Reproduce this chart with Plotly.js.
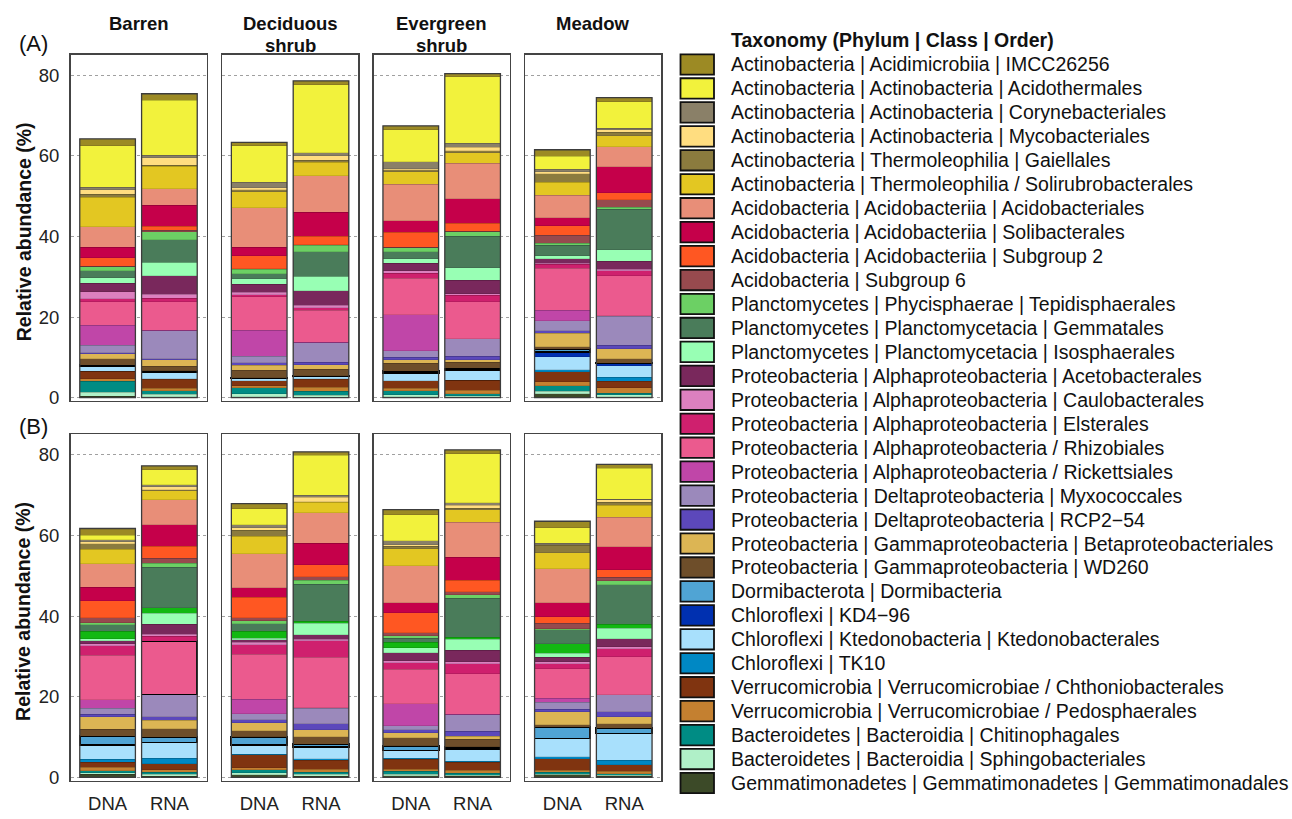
<!DOCTYPE html>
<html><head><meta charset="utf-8">
<script src="https://cdn.plot.ly/plotly-3.0.1.min.js"></script>
<style>html,body{margin:0;padding:0;background:#fff;}#chart{width:1292px;height:819px;}</style>
</head><body><div id="chart"></div>
<script>
// ---------------- DATA ----------------
const habitats = ["Barren", "Deciduous<br>shrub", "Evergreen<br>shrub", "Meadow"];
const nucleic = ["DNA", "RNA"];
const rowLabels = ["(A)", "(B)"];
const yTicks = [0, 20, 40, 60, 80];
const yTitle = "Relative abundance (%)";
const legendTitle = "Taxonomy (Phylum | Class | Order)";

// 16 values per taxon: row A [Barren DNA, Barren RNA, Deciduous DNA, Deciduous RNA, Evergreen DNA, Evergreen RNA, Meadow DNA, Meadow RNA], then row B in the same order
const IMCC26256 = [1.65,1.65,0.8,1.0,0.9,0.75,1.65,1.0, 1.65,0.9,1.25,0.8,1.3,1.0,1.65,1.0];
const Acidothermales = [10.3,13.6,9.1,16.8,7.95,16.5,3.2,6.6, 1.15,3.8,4.0,10.0,6.45,12.15,3.8,7.6];
const Corynebacteriales = [0.66,0.66,1.4,0.8,1.75,1.0,0.6,0.33, 0.5,0.5,0.75,0.5,1.0,0.66,0.33,0.2];
const Mycobacteriales = [1.1,1.8,0.5,1.15,0.33,0.9,0.5,0.66, 0.5,0.66,0.66,1.05,0.3,0.66,0.2,0.66];
const Gaiellales = [0.75,0.3,0.4,0.4,0.4,0.5,2.05,0.9, 1.3,0.33,1.4,0.2,0.7,0.4,1.8,0.66];
const Solirubrobacterales = [7.4,5.6,4.05,3.4,3.2,2.65,3.3,2.65, 3.7,2.15,4.4,2.55,4.15,3.15,4.0,3.0];
const Acidobacteriales = [5.0,4.0,9.75,9.1,8.95,8.7,5.55,5.0, 5.8,6.3,8.45,7.6,9.25,8.6,8.5,7.3];
const Solibacterales = [2.6,5.3,2.15,5.95,2.9,6.1,2.0,6.45, 3.3,5.3,2.3,5.3,2.5,5.8,3.4,5.7];
const Subgroup2 = [2.15,1.0,3.15,2.05,3.7,2.05,2.4,1.75, 4.2,3.0,5.1,3.0,4.95,2.8,1.65,1.9];
const Subgroup6 = [0.1,0.3,0.15,0.1,0.1,0.1,1.9,1.8, 1.3,1.25,0.8,0.9,0.66,0.75,1.3,0.8];
const Tepidisphaerales = [1.0,2.0,1.15,1.6,1.0,1.05,0.6,0.5, 0.5,0.9,0.66,0.9,0.66,0.9,0.33,1.0];
const Gemmatales = [1.8,5.6,1.3,6.1,1.8,7.85,2.5,10.1, 1.65,10.1,1.9,9.25,1.0,9.6,3.5,9.9];
const Isosphaerales = [1.3,3.4,1.25,3.65,1.15,3.15,0.8,2.8, 0.5,2.65,0.33,2.8,1.25,2.8,1.0,2.5];
const Acetobacterales = [2.1,4.55,2.0,3.55,1.8,3.3,1.1,2.05, 0.8,2.5,0.66,1.15,2.0,2.8,1.15,2.0];
const Caulobacterales = [1.8,1.0,0.6,0.6,0.6,0.4,0.2,0.4, 0.4,0.5,0.66,0.33,0.5,0.5,0.5,0.5];
const Elsterales = [0.75,0.8,0.5,0.65,1.25,1.55,1.0,1.15, 2.4,1.25,2.3,4.1,1.65,2.5,1.15,2.0];
const Rhizobiales = [5.8,7.1,8.35,7.95,9.1,9.2,10.5,10.0, 11.0,13.2,11.25,12.55,8.6,10.1,7.3,9.4];
const Rickettsiales = [5.0,0.1,6.5,0.1,8.9,0.1,2.55,0.1, 2.2,0.1,3.5,0.1,5.45,0.1,1.0,0.1];
const Myxococcales = [1.8,6.95,1.6,4.9,1.65,4.3,2.5,7.2, 1.5,5.45,1.5,3.9,1.0,4.0,1.8,4.15];
const RCP2_54 = [0.25,0.33,0.6,0.6,0.65,0.8,0.65,0.8, 0.6,0.8,0.8,1.5,0.66,1.3,0.66,1.3];
const Betaproteobacteriales = [1.3,1.6,1.25,1.1,0.8,0.65,3.3,2.5, 3.05,2.15,2.0,1.75,1.3,0.8,3.15,1.65];
const WD260 = [1.6,1.1,1.9,1.55,2.0,1.55,0.65,1.1, 1.75,2.15,1.5,1.8,2.0,1.8,0.66,1.15];
const Dormibacteria = [0.25,0.3,0.15,0.15,0.4,0.33,0.66,0.1, 2.25,1.3,1.9,0.66,1.15,0.66,2.8,1.3];
const KD4_96 = [0.05,0.05,0.05,0.05,0.05,0.05,1.15,0.6, 0.1,0.1,0.1,0.1,0.1,0.1,0.1,0.1];
const Ktedonobacterales = [1.15,1.65,0.5,0.65,1.9,2.5,3.3,2.8, 3.3,3.8,2.25,2.8,1.8,2.8,4.45,6.5];
const TK10 = [0.05,0.05,0.05,0.05,0.05,0.05,0.5,1.0, 0.8,1.3,0.2,0.4,0.2,0.33,0.5,1.1];
const Chthoniobacterales = [1.8,2.3,1.25,2.0,1.8,2.5,2.5,1.65, 1.3,1.5,3.15,2.25,2.5,2.0,2.8,1.65];
const Pedosphaerales = [0.66,0.66,0.5,1.0,0.66,0.8,1.0,1.3, 0.8,0.66,0.5,0.8,0.5,0.66,0.5,0.66];
const Chitinophagales = [2.65,0.8,1.4,1.0,1.0,0.5,1.3,0.4, 0.5,0.5,0.8,0.5,0.8,0.5,0.5,0.33];
const Sphingobacteriales = [1.0,0.66,0.8,0.5,0.5,0.33,0.6,0.5, 0.33,0.5,0.5,0.5,0.33,0.33,0.15,0.33];
const Gemmatimonadales = [0.4,0.2,0.2,0.1,0.2,0.2,1.0,0.25, 0.8,0.25,0.6,0.2,0.4,0.2,0.6,0.2];
const unlabelledGreen = [0,0,0,0,0,0,0,0, 1.8,1.4,1.75,0.5,1.3,0.5,2.3,1.0];

const taxaNames = [
  "Actinobacteria | Acidimicrobiia | IMCC26256",
  "Actinobacteria | Actinobacteria | Acidothermales",
  "Actinobacteria | Actinobacteria | Corynebacteriales",
  "Actinobacteria | Actinobacteria | Mycobacteriales",
  "Actinobacteria | Thermoleophilia | Gaiellales",
  "Actinobacteria | Thermoleophilia / Solirubrobacterales",
  "Acidobacteria | Acidobacteriia | Acidobacteriales",
  "Acidobacteria | Acidobacteriia | Solibacterales",
  "Acidobacteria | Acidobacteriia | Subgroup 2",
  "Acidobacteria | Subgroup 6",
  "Planctomycetes | Phycisphaerae | Tepidisphaerales",
  "Planctomycetes | Planctomycetacia | Gemmatales",
  "Planctomycetes | Planctomycetacia | Isosphaerales",
  "Proteobacteria | Alphaproteobacteria | Acetobacterales",
  "Proteobacteria | Alphaproteobacteria | Caulobacterales",
  "Proteobacteria | Alphaproteobacteria | Elsterales",
  "Proteobacteria | Alphaproteobacteria / Rhizobiales",
  "Proteobacteria | Alphaproteobacteria / Rickettsiales",
  "Proteobacteria | Deltaproteobacteria | Myxococcales",
  "Proteobacteria | Deltaproteobacteria | RCP2\u221254",
  "Proteobacteria | Gammaproteobacteria | Betaproteobacteriales",
  "Proteobacteria | Gammaproteobacteria | WD260",
  "Dormibacterota | Dormibacteria",
  "Chloroflexi | KD4\u221296",
  "Chloroflexi | Ktedonobacteria | Ktedonobacterales",
  "Chloroflexi | TK10",
  "Verrucomicrobia | Verrucomicrobiae / Chthoniobacterales",
  "Verrucomicrobia | Verrucomicrobiae / Pedosphaerales",
  "Bacteroidetes | Bacteroidia | Chitinophagales",
  "Bacteroidetes | Bacteroidia | Sphingobacteriales",
  "Gemmatimonadetes | Gemmatimonadetes | Gemmatimonadales"
];
const taxaValues = [IMCC26256, Acidothermales, Corynebacteriales, Mycobacteriales, Gaiellales,
  Solirubrobacterales, Acidobacteriales, Solibacterales, Subgroup2, Subgroup6, Tepidisphaerales,
  Gemmatales, Isosphaerales, Acetobacterales, Caulobacterales, Elsterales, Rhizobiales, Rickettsiales,
  Myxococcales, RCP2_54, Betaproteobacteriales, WD260, Dormibacteria, KD4_96, Ktedonobacterales, TK10,
  Chthoniobacterales, Pedosphaerales, Chitinophagales, Sphingobacteriales, Gemmatimonadales];
const taxaColors = ["#9c8a24","#f2f23c","#8a8068","#ffdd80","#8b7b3e","#e3c722","#e88e78","#c5004a",
  "#ff5722","#974a4e","#6cd064","#4a7c5a","#98ffb4","#79285c","#dc80bf","#cf206e","#eb5a8e","#c046a8",
  "#9b89bb","#5c48bb","#dcb554","#6e4e2a","#50a4d4","#0030b0","#a8e0fc","#0088c4","#803410","#c48030",
  "#008c84","#b0f0c8","#3c4a28"];
const unlabelledColor = "#12b812";

// ---------------- LAYOUT GEOMETRY (pixels) ----------------
const W = 1292, H = 819;
const PX = v => v / W, PY = v => 1 - v / H;
const colLeft = [70.5, 222.1, 373.7, 525.3], colW = 136;
const rowTop = [54.7, 434.3], rowH = 346.2;
const yRange = [-0.8, 85.1];
const FONT = "Liberation Sans, Arial, Helvetica, sans-serif";

// stacking order bottom -> top (reverse of legend), unlabelled green sits between Isosphaerales and Gemmatales
const stack = [];
for (let i = taxaNames.length - 1; i >= 0; i--) {
  stack.push({name: taxaNames[i], color: taxaColors[i], vals: taxaValues[i]});
  if (taxaNames[i].endsWith("Isosphaerales")) stack.push({name: "Planctomycetes (unlabelled)", color: unlabelledColor, vals: unlabelledGreen});
}

const traces = [];
const layout = {
  width: W, height: H, margin: {l: 0, r: 0, t: 0, b: 0},
  paper_bgcolor: "#fff", plot_bgcolor: "#fff",
  barmode: "stack", bargap: 0.1, showlegend: false,
  font: {family: FONT, color: "#1a1a1a"},
  annotations: [], shapes: []
};

for (let r = 0; r < 2; r++) {
  for (let c = 0; c < 4; c++) {
    const p = r * 4 + c;
    const ax = p === 0 ? "" : String(p + 1);
    const idx = k => r * 8 + c * 2 + k;
    stack.forEach(s => {
      const isDor = s.name.startsWith("Dormibacterota");
      const isRhiHi = s.name.endsWith("Rhizobiales") && r === 1 && c === 0;
      traces.push({
        type: "bar", name: s.name, x: nucleic, y: [s.vals[idx(0)], s.vals[idx(1)]],
        xaxis: "x" + ax, yaxis: "y" + ax, width: 0.9,
        marker: {color: s.color, line: {
          color: nucleic.map((_, k) => (isDor || (isRhiHi && k === 1)) ? "#000" : "rgba(0,0,0,0.18)"),
          width: nucleic.map((_, k) => (isDor || (isRhiHi && k === 1)) ? 1.8 : 0.6)}},
        hovertemplate: s.name + "<br>%{x}: %{y:.2f}%<extra></extra>"
      });
    });
    // outline of each whole bar, computed from the stacked totals
    nucleic.forEach((n, k) => {
      const total = stack.reduce((a, s) => a + s.vals[idx(k)], 0);
      layout.shapes.push({type: "rect", xref: "x" + ax, yref: "y" + ax, x0: k - 0.45, x1: k + 0.45, y0: 0, y1: total,
        line: {color: "#3c3c3c", width: 1.3}, fillcolor: "rgba(0,0,0,0)", layer: "above"});
    });
    layout["xaxis" + ax] = {
      domain: [PX(colLeft[c]), PX(colLeft[c] + colW)], anchor: "y" + ax,
      type: "category", range: [-0.6, 1.6], showgrid: false, zeroline: false,
      showline: true, mirror: true, linecolor: "#444", linewidth: 1.5,
      ticks: "outside", ticklen: 6, tickcolor: "rgba(0,0,0,0)",
      showticklabels: r === 1, tickfont: {family: FONT, size: 18.5, color: "#222"}, fixedrange: true
    };
    layout["yaxis" + ax] = {
      domain: [PY(rowTop[r] + rowH), PY(rowTop[r])], anchor: "x" + ax,
      range: yRange, tickvals: yTicks, showgrid: true, gridcolor: "#a0a0a0", griddash: "dot", gridwidth: 1,
      zeroline: false, showline: true, mirror: true, linecolor: "#444", linewidth: 1.5,
      ticks: "outside", ticklen: 6, tickcolor: "rgba(0,0,0,0)",
      showticklabels: c === 0, tickfont: {family: FONT, size: 18.5, color: "#222"}, fixedrange: true
    };
  }
  // row label and y title
  layout.annotations.push({text: rowLabels[r], x: PX(33), y: PY(r === 0 ? 43 : 426), xref: "paper", yref: "paper",
    showarrow: false, xanchor: "center", yanchor: "middle", font: {family: FONT, size: 22, color: "#111"}});
  layout.annotations.push({text: "<b>" + yTitle + "</b>", x: PX(23.5), y: PY(rowTop[r] + rowH / 2 + 4), xref: "paper", yref: "paper",
    showarrow: false, textangle: -90, xanchor: "center", yanchor: "middle", font: {family: FONT, size: 19.5, color: "#111"}});
}

// facet strip titles (top row)
habitats.forEach((h, c) => {
  h.split("<br>").forEach((line, j) => {
    layout.annotations.push({text: "<b>" + line + "</b>", x: PX(colLeft[c] + colW / 2), y: PY(23 + 22 * j),
      xref: "paper", yref: "paper", showarrow: false, xanchor: "center", yanchor: "middle",
      font: {family: FONT, size: 18.5, color: "#111"}});
  });
});

// legend (drawn from taxaNames / taxaColors)
layout.annotations.push({text: "<b>" + legendTitle + "</b>", x: PX(728.5), y: PY(40), xref: "paper", yref: "paper",
  showarrow: false, xanchor: "left", yanchor: "middle", font: {family: FONT, size: 19.5, color: "#111"}});
taxaNames.forEach((name, i) => {
  const cy = 64.5 + i * 23.95;
  layout.shapes.push({type: "rect", xref: "paper", yref: "paper", x0: PX(680.5), x1: PX(714), y0: PY(cy + 10.2), y1: PY(cy - 10.2),
    fillcolor: taxaColors[i], line: {color: "#111", width: 1.8}});
  layout.annotations.push({text: name, x: PX(728.5), y: PY(cy), xref: "paper", yref: "paper", showarrow: false,
    xanchor: "left", yanchor: "middle", font: {family: FONT, size: 19.5, color: "#111"}});
});

Plotly.newPlot("chart", traces, layout, {displayModeBar: false, staticPlot: true});
</script>
</body></html>
